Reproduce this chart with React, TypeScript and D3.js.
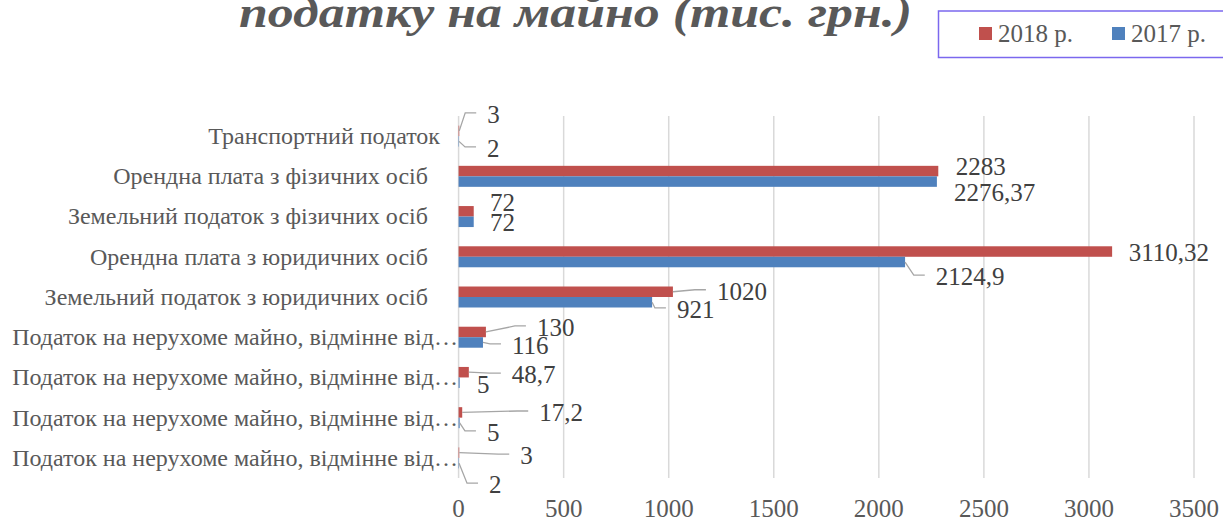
import React, { useEffect } from "react";
import * as d3 from "d3";

const categories = [
  "Транспортний податок   ",
  "Орендна плата з фізичних осіб     ",
  "Земельний податок з фізичних осіб     ",
  "Орендна плата з юридичних осіб     ",
  "Земельний податок з юридичних осіб     ",
  "Податок на нерухоме майно, відмінне від…",
  "Податок на нерухоме майно, відмінне від…",
  "Податок на нерухоме майно, відмінне від…",
  "Податок на нерухоме майно, відмінне від…",
];
const series = ["2018 р.", "2017 р."];
const values2018 = [3, 2283, 72, 3110.32, 1020, 130, 48.7, 17.2, 3];
const values2017 = [2, 2276.37, 72, 2124.9, 921, 116, 5, 5, 2];
const xTicks = [0, 500, 1000, 1500, 2000, 2500, 3000, 3500];

// hand-placed data labels: [dx from bar end, dy from bar centre, leader line]
const labelPos2018: [number, number, boolean][] = [
  [28, -16, true], [17.5, -4, false], [16.3, -8.3, false], [16.6, 1.5, false],
  [44, 0, true], [51, -4, true], [43, 3, true], [77, 0.6, true], [61, 3.4, true],
];
const labelPos2017: [number, number, boolean][] = [
  [28, 7.6, true], [17, 11.4, false], [16.3, 1.2, false], [30.7, 15, true],
  [24.8, 7.7, true], [29, 3.5, true], [17.3, 2.3, false], [27.3, 10, true], [30, 22, true],
];

const colors = ["#C0504D", "#4F81BD"];
const W = 1223;
const H = 520;

const fmt = (v: number) => String(v).replace(".", ",");

export default function App() {
  useEffect(() => {
    document.body.style.margin = "0";
  }, []);

  const x = d3.scaleLinear().domain([0, 3500]).range([458.6, 1194]);
  const y = d3
    .scaleBand<number>()
    .domain(categories.map((_, i) => i))
    .range([116, 478])
    .paddingInner(0.478)
    .paddingOuter(0.239);
  const sub = d3.scaleBand<number>().domain([0, 1]).range([0, y.bandwidth()]);

  const allSeries = [values2018, values2017];
  const allPos = [labelPos2018, labelPos2017];
  const serif = "'Liberation Serif', 'Times New Roman', serif";

  return (
    <svg width={W} height={H} style={{ display: "block", background: "#fff" }} fontFamily={serif}>
      {/* title (second line only, first is cut off) */}
      <text
        x={239}
        y={27}
        textLength={673}
        lengthAdjust="spacingAndGlyphs"
        fontSize={44}
        fontWeight="bold"
        fontStyle="italic"
        fill="#595959"
      >
        податку на майно (тис. грн.)
      </text>

      {/* legend */}
      <rect x={938.5} y={11} width={300} height={46.5} fill="#fff" stroke="#7B68EE" strokeWidth={1.5} />
      {series.map((s, i) => (
        <g key={s} transform={`translate(${979 + i * 133},0)`}>
          <rect x={0} y={27} width={13} height={13} fill={colors[i]} />
          <text x={19} y={33.5} dy="0.33em" fontSize={25} fill="#595959">
            {s}
          </text>
        </g>
      ))}

      {/* gridlines */}
      {xTicks.map((t) => (
        <line key={t} x1={x(t)} x2={x(t)} y1={116} y2={478} stroke="#D9D9D9" strokeWidth={1.5} />
      ))}

      {/* category labels */}
      {categories.map((c, i) => (
        <text
          key={i}
          x={458}
          y={y(i)! + y.bandwidth() / 2}
          dy="0.33em"
          textAnchor="end"
          fontSize={24}
          fill="#595959"
          style={{ whiteSpace: "pre" }}
        >
          {c}
        </text>
      ))}

      {/* bars */}
      {allSeries.map((vals, s) =>
        vals.map((v, i) => (
          <rect
            key={`${s}-${i}`}
            x={x(0)}
            y={y(i)! + sub(s)!}
            width={Math.max(x(v) - x(0), 0)}
            height={sub.bandwidth()}
            fill={colors[s]}
          />
        ))
      )}

      {/* data labels with leader lines */}
      {allSeries.map((vals, s) =>
        vals.map((v, i) => {
          const [dx, dy, leader] = allPos[s][i];
          const bx = x(v);
          const by = y(i)! + sub(s)! + sub.bandwidth() / 2;
          const lx = bx + dx;
          const ly = by + dy;
          return (
            <g key={`l${s}-${i}`}>
              {leader && (
                <polyline
                  points={`${bx},${by} ${lx - 22},${ly - 2} ${lx - 11},${ly - 2}`}
                  fill="none"
                  stroke="#A6A6A6"
                  strokeWidth={1.3}
                />
              )}
              <text x={lx} y={ly} dy="0.33em" fontSize={25} fill="#404040">
                {fmt(v)}
              </text>
            </g>
          );
        })
      )}

      {/* x axis tick labels */}
      {xTicks.map((t) => (
        <text key={t} x={x(t)} y={509} dy="0.33em" textAnchor="middle" fontSize={25} fill="#595959">
          {t}
        </text>
      ))}
    </svg>
  );
}
